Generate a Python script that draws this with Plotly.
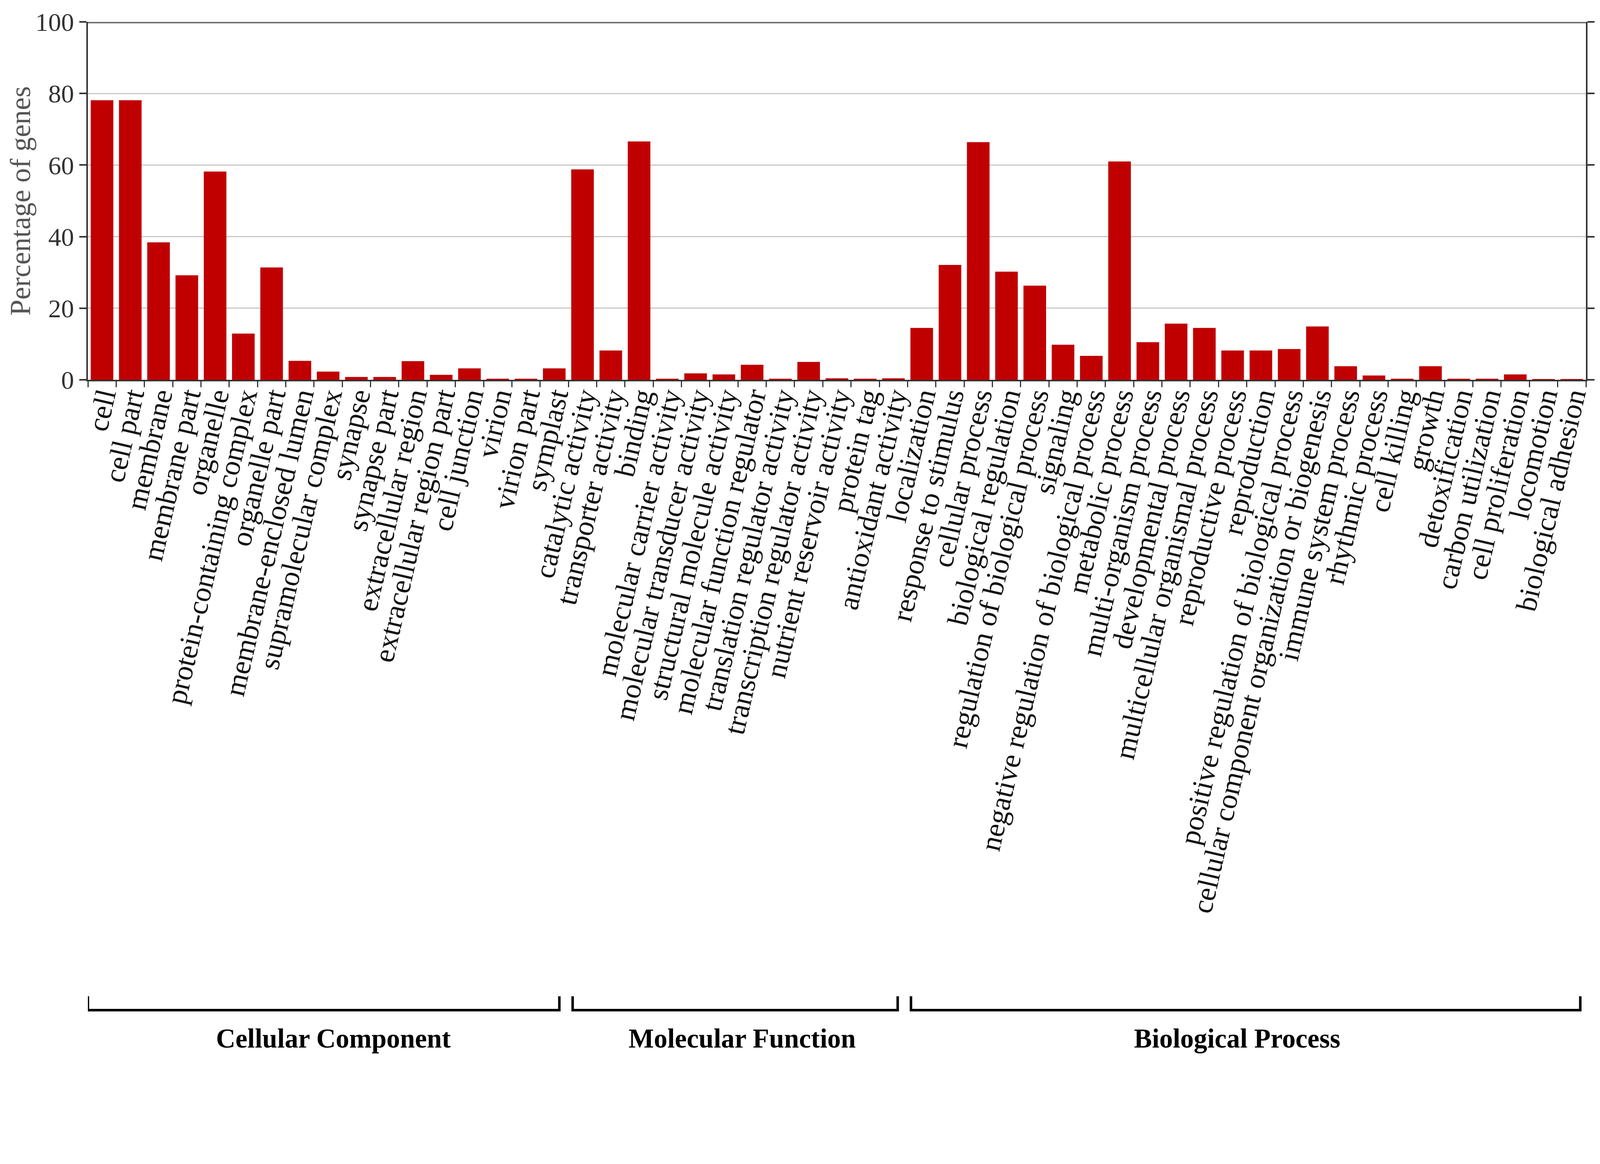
import plotly.graph_objects as go

# ---------------- data ----------------
cc_terms = ["cell", "cell part", "membrane", "membrane part", "organelle",
            "protein-containing complex", "organelle part", "membrane-enclosed lumen",
            "supramolecular complex", "synapse", "synapse part", "extracellular region",
            "extracellular region part", "cell junction", "virion", "virion part", "symplast"]
cc_values = [78.1, 78.1, 38.4, 29.2, 58.2, 12.9, 31.4, 5.3, 2.3, 0.8, 0.8, 5.2,
             1.4, 3.2, 0.3, 0.3, 3.2]

mf_terms = ["catalytic activity", "transporter activity", "binding",
            "molecular carrier activity", "molecular transducer activity",
            "structural molecule activity", "molecular function regulator",
            "translation regulator activity", "transcription regulator activity",
            "nutrient reservoir activity", "protein tag", "antioxidant activity"]
mf_values = [58.8, 8.2, 66.6, 0.3, 1.8, 1.5, 4.2, 0.3, 5.0, 0.4, 0.3, 0.4]

bp_terms = ["localization", "response to stimulus", "cellular process",
            "biological regulation", "regulation of biological process", "signaling",
            "negative regulation of biological process", "metabolic process",
            "multi-organism process", "developmental process",
            "multicellular organismal process", "reproductive process", "reproduction",
            "positive regulation of biological process",
            "cellular component organization or biogenesis", "immune system process",
            "rhythmic process", "cell killing", "growth", "detoxification",
            "carbon utilization", "cell proliferation", "locomotion", "biological adhesion"]
bp_values = [14.5, 32.1, 66.4, 30.2, 26.3, 9.8, 6.7, 61.0, 10.5, 15.7, 14.5, 8.2, 8.2,
             8.6, 14.9, 3.8, 1.2, 0.3, 3.8, 0.3, 0.3, 1.5, 0.2, 0.2]

group_names = ["Cellular Component", "Molecular Function", "Biological Process"]
y_ticks = [0, 20, 40, 60, 80, 100]
y_title = "Percentage of genes"

# ---------------- figure ----------------
groups = [cc_terms, mf_terms, bp_terms]
categories = cc_terms + mf_terms + bp_terms
values = cc_values + mf_values + bp_values

# the page is rendered with a CSS viewport of ~4096 px and an 8px body margin
S = 4096 / 4463.0
OFF = 8


def pos(p):
    return p * S - OFF


def sz(v):
    return v * S


W, H = 4086, 2722
# plot area in reference image pixels
PL, PR, PT, PB = 245, 4426, 50, 1059
ML = pos(PL)
MT = pos(PT)
MR = W - pos(PR)
MB = H - pos(PB)

SERIF = "Liberation Serif"

fig = go.Figure(go.Bar(
    x=categories, y=values,
    marker=dict(color="#c00000", line=dict(width=0)),
))

fig.update_layout(
    width=W, height=H,
    margin=dict(l=ML, r=MR, t=MT, b=MB, pad=0),
    plot_bgcolor="white", paper_bgcolor="white",
    bargap=0.2,
    showlegend=False,
    font=dict(family=SERIF, color="#111111"),
)

fig.update_xaxes(
    type="category",
    range=[-0.5, len(categories) - 0.5],
    tickmode="array", tickvals=categories, ticktext=categories,
    tickangle=-77,
    tickfont=dict(family=SERIF, size=sz(81), color="#111111"),
    ticklabelstandoff=-int(round(sz(36))),
    ticks="outside", tickson="boundaries", ticklen=sz(16), tickwidth=sz(3),
    tickcolor="#333333",
    showline=True, linecolor="#333333", linewidth=sz(4),
    showgrid=False, zeroline=False,
)

fig.update_yaxes(
    range=[0, 100],
    tickvals=y_ticks,
    tickfont=dict(family=SERIF, size=sz(72), color="#333333"),
    ticks="outside", ticklen=sz(20), tickwidth=sz(4), tickcolor="#333333",
    showline=True, linecolor="#333333", linewidth=sz(4), mirror="ticks",
    showgrid=True, gridcolor="#c8c8c8", gridwidth=sz(3),
    zeroline=False,
)

# top border line at 100
fig.add_shape(type="line", xref="paper", yref="y", x0=0, x1=1, y0=100, y1=100,
              line=dict(color="#707070", width=sz(8)))

# y-axis title
fig.add_annotation(
    text=y_title, xref="paper", yref="paper",
    x=(56 - PL) / (PR - PL), y=0.5, textangle=-90,
    showarrow=False, xanchor="center", yanchor="middle",
    font=dict(family=SERIF, size=sz(80), color="#555555"),
)


# group brackets and labels (reference pixel rows -> paper coords)
def py(pix):
    return (PB - pix) / (PB - PT)


y_line = py(2836)
y_arm = py(2797)
y_text = py(2916)
start_pad = [0.0, 0.15, 0.12]
end_pad = [0.32, 0.35, 0.2]
label_shift = [0.35, 0.25, -0.3]
start = 0
for gi, (terms, name) in enumerate(zip(groups, group_names)):
    n = len(terms)
    x0 = start - 0.5 + start_pad[gi]
    x1 = start + n - 0.5 - end_pad[gi]
    fig.add_shape(type="path", xref="x", yref="paper",
                  path=f"M {x0} {y_arm} L {x0} {y_line} L {x1} {y_line} L {x1} {y_arm}",
                  line=dict(color="#000000", width=sz(7)))
    fig.add_annotation(text=f"<b>{name}</b>", xref="x", yref="paper",
                       x=(x0 + x1) / 2 + label_shift[gi], y=y_text, showarrow=False,
                       xanchor="center", yanchor="middle",
                       font=dict(family=SERIF, size=sz(75), color="#000000"))
    start += n

fig.write_html("out.html")
